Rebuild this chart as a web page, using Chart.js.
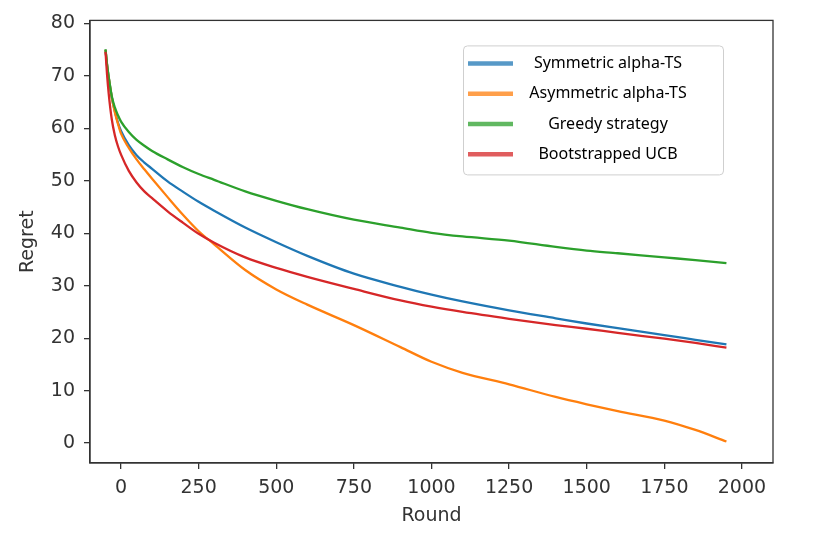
<!DOCTYPE html>
<html>
<head>
<meta charset="utf-8">
<title>Regret per round</title>
<script src="https://cdn.jsdelivr.net/npm/chart.js@4.4.1/dist/chart.umd.min.js"></script>
<style>
  html, body { margin: 0; padding: 0; background: #fff; }
  #wrap { width: 824px; height: 541px; }
</style>
</head>
<body>
<div id="wrap"><canvas id="regretChart" width="824" height="541"></canvas></div>
<script>
const rounds = [-50, -45, -40, -30, -20, -10, 0, 25, 50, 75, 100, 150, 200, 250, 300, 400, 500,
                600, 750, 900, 1000, 1100, 1250, 1400, 1500, 1600, 1750, 1850, 1950];

const symmetricTS = [75, 72, 69.8, 66, 63.3, 61.1, 59.5, 56.8, 54.9, 53.5, 52.3, 49.9, 47.9, 46, 44.3, 41.1, 38.3,
                     35.7, 32.3, 29.8, 28.3, 27, 25.3, 23.8, 22.8, 21.9, 20.6, 19.7, 18.8];
const asymmetricTS = [75, 72, 69.8, 66, 63.1, 60.9, 59, 56.3, 54.1, 52.2, 50.4, 46.9, 43.5, 40.4, 37.9, 33, 29.3,
                      26.4, 22.5, 18.3, 15.5, 13.4, 11.2, 8.8, 7.4, 6.1, 4.3, 2.5, 0.3];
const greedy = [75.1, 72.2, 69.9, 66.2, 64, 62.5, 61.3, 59.3, 57.8, 56.7, 55.7, 54.1, 52.6, 51.3, 50.2, 48, 46.2,
                44.6, 42.6, 41.1, 40.1, 39.4, 38.6, 37.4, 36.7, 36.2, 35.4, 34.9, 34.3];
const bootstrappedUCB = [74.6, 70.2, 66.8, 61.8, 58.7, 56.6, 55, 51.9, 49.7, 48, 46.7, 44.2, 42, 39.9, 38.2, 35.4, 33.4,
                         31.7, 29.4, 27.2, 26, 25, 23.7, 22.5, 21.8, 21, 19.9, 19.1, 18.2];

const seriesLabels = ['Symmetric alpha-TS', 'Asymmetric alpha-TS', 'Greedy strategy', 'Bootstrapped UCB'];
const seriesValues = [symmetricTS, asymmetricTS, greedy, bootstrappedUCB];
const seriesColors = ['#1f77b4', '#ff7f0e', '#2ca02c', '#d62728'];
const legendColors = ['rgba(31,119,180,0.75)', 'rgba(255,127,14,0.75)', 'rgba(44,160,44,0.75)', 'rgba(214,39,40,0.75)'];

const xTickValues = [0, 250, 500, 750, 1000, 1250, 1500, 1750, 2000];
const yTickValues = [0, 10, 20, 30, 40, 50, 60, 70, 80];

Chart.defaults.font.family = "'DejaVu Sans', sans-serif";
Chart.defaults.color = '#333';

// the four-sided axes frame (matplotlib spines)
const frame = {
    id: 'frame',
    beforeDatasetsDraw(chart) {
        const {ctx, chartArea: a} = chart;
        ctx.save();
        ctx.strokeStyle = '#333';
        ctx.lineWidth = 1.3;
        ctx.strokeRect(a.left, a.top, a.right - a.left, a.bottom - a.top);
        ctx.restore();
    }
};

// legend box inside the plot, upper right
const boxLegend = {
    id: 'boxLegend',
    afterDraw(chart) {
        const {ctx, chartArea: a} = chart;
        const x0 = a.right - 310, y0 = a.top + 25, w = 260, h = 129;
        ctx.save();
        ctx.fillStyle = 'rgba(255,255,255,0.9)';
        ctx.strokeStyle = '#cfcfcf';
        ctx.lineWidth = 1;
        ctx.beginPath();
        ctx.roundRect(x0 + 0.5, y0 + 0.5, w, h, 4);
        ctx.fill();
        ctx.stroke();
        ctx.font = "16px 'Noto Sans', sans-serif";
        ctx.textAlign = 'center';
        ctx.textBaseline = 'middle';
        chart.data.datasets.forEach((ds, i) => {
            const y = y0 + 18 + i * 30.3;
            ctx.strokeStyle = legendColors[i];
            ctx.lineWidth = 4.5;
            ctx.beginPath();
            ctx.moveTo(x0 + 5, y);
            ctx.lineTo(x0 + 50, y);
            ctx.stroke();
            ctx.fillStyle = '#000';
            ctx.fillText(ds.label, x0 + 145, y);
        });
        ctx.restore();
    }
};

const datasets = seriesLabels.map((label, i) => ({
    label: label,
    data: rounds.map((r, j) => ({x: r, y: seriesValues[i][j]})),
    borderColor: seriesColors[i],
    backgroundColor: seriesColors[i],
    borderWidth: 2.3,
    pointRadius: 0,
    fill: false,
    cubicInterpolationMode: 'monotone',
    order: seriesLabels.length - i   // later series on top, as in matplotlib
}));

new Chart(document.getElementById('regretChart'), {
    type: 'line',
    data: { datasets: datasets },
    options: {
        responsive: false,
        animation: false,
        events: [],
        layout: { padding: { top: 18, right: 51, left: 0, bottom: 0 } },
        plugins: {
            legend: { display: false },
            tooltip: { enabled: false },
            title: { display: false }
        },
        scales: {
            x: {
                type: 'linear',
                min: -100,
                max: 2100,
                afterBuildTicks: s => { s.ticks = xTickValues.map(v => ({value: v})); },
                afterFit: s => { s.height = 78; },
                ticks: { font: { size: 19 }, padding: 8, maxRotation: 0, autoSkip: false,
                         callback: v => String(v) },
                grid: { drawOnChartArea: false, drawTicks: true, tickLength: 6, color: '#333', lineWidth: 1.3 },
                border: { display: true, color: '#333', width: 1.3 },
                title: { display: true, text: 'Round', font: { size: 19 }, padding: { top: 0, bottom: 14 } }
            },
            y: {
                type: 'linear',
                min: -3.8,
                max: 80.6,
                afterBuildTicks: s => { s.ticks = yTickValues.map(v => ({value: v})); },
                afterFit: s => { s.width = 90; },
                ticks: { font: { size: 19 }, padding: 9, autoSkip: false, callback: v => String(v) },
                grid: { drawOnChartArea: false, drawTicks: true, tickLength: 6, color: '#333', lineWidth: 1.3 },
                border: { display: true, color: '#333', width: 1.3 },
                title: { display: true, text: 'Regret', font: { size: 19 }, padding: { top: 17, bottom: 0 } }
            }
        }
    },
    plugins: [frame, boxLegend]
});
</script>
</body>
</html>
